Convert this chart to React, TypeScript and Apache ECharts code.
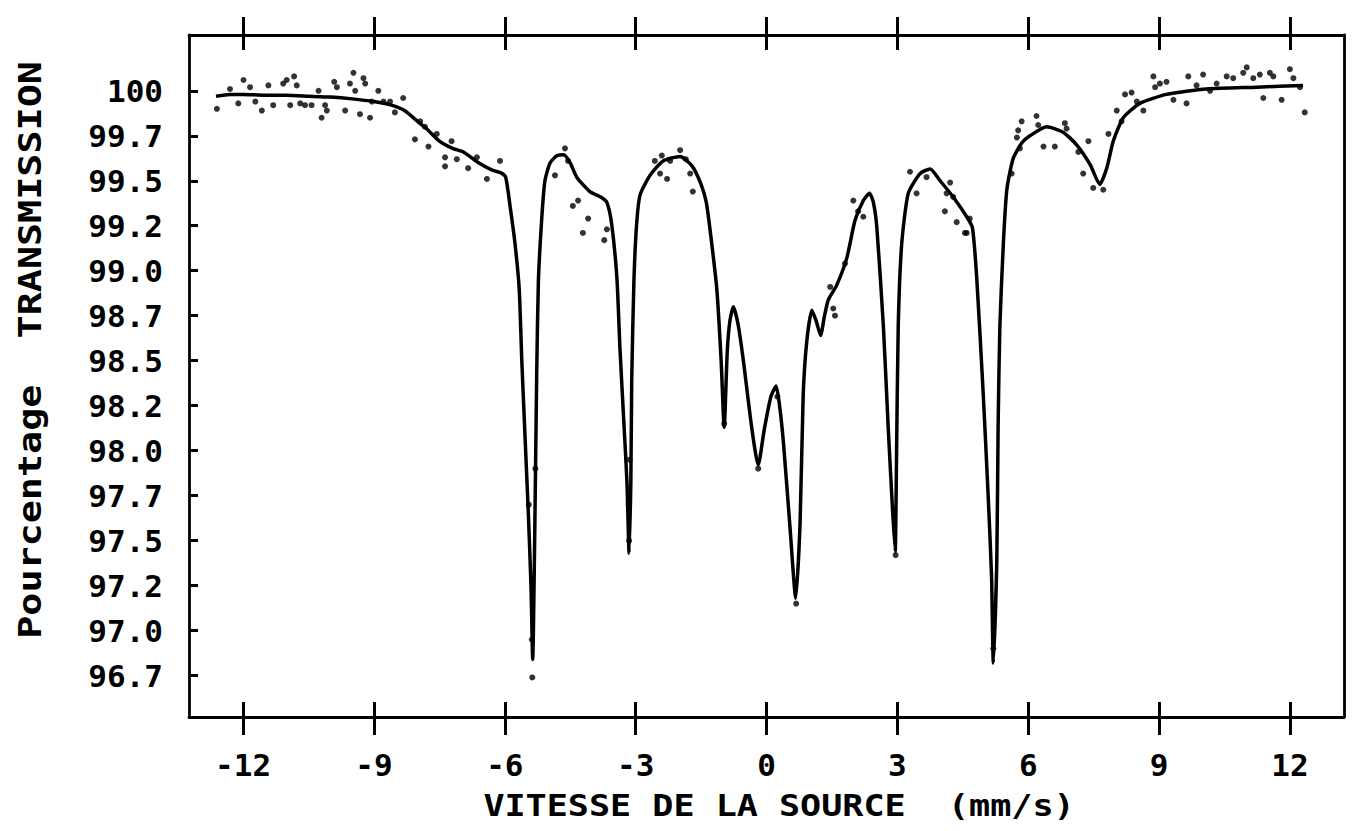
import React, { useEffect, useRef } from "react";
import * as echarts from "echarts";

const xTicks = [-12, -9, -6, -3, 0, 3, 6, 9, 12];
const xTickLabels = ["-12", "-9", "-6", "-3", "0", "3", "6", "9", "12"];
const yTicks = [100, 99.75, 99.5, 99.25, 99, 98.75, 98.5, 98.25, 98, 97.75, 97.5, 97.25, 97, 96.75];
const yTickLabels = ["100", "99.7", "99.5", "99.2", "99.0", "98.7", "98.5", "98.2", "98.0", "97.7", "97.5", "97.2", "97.0", "96.7"];

const xTitle = "VITESSE DE LA SOURCE  (mm/s)";
const yTitle = "Pourcentage  TRANSMISSION";

// fitted curve: [velocity mm/s, transmission %]
const fitCurve = [
  [-12.62, 99.97], [-12.3, 99.98], [-12.0, 99.98], [-11.5, 99.975], [-11.0, 99.975],
  [-10.5, 99.97], [-10.0, 99.965], [-9.5, 99.955], [-9.0, 99.94], [-8.6, 99.92],
  [-8.3, 99.89], [-8.0, 99.83], [-7.8, 99.79], [-7.5, 99.72], [-7.2, 99.68],
  [-6.95, 99.66], [-6.6, 99.6], [-6.3, 99.56], [-6.1, 99.545], [-5.98, 99.52],
  [-5.88, 99.36], [-5.77, 99.16], [-5.67, 98.9], [-5.61, 98.5], [-5.54, 98.1],
  [-5.46, 97.65], [-5.4, 97.25], [-5.36, 96.84], [-5.31, 97.6], [-5.27, 98.4],
  [-5.23, 98.94], [-5.15, 99.3], [-5.08, 99.5], [-4.96, 99.6], [-4.8, 99.64],
  [-4.65, 99.645], [-4.5, 99.6], [-4.35, 99.52], [-4.05, 99.44], [-3.8, 99.41],
  [-3.66, 99.38], [-3.55, 99.26], [-3.43, 98.96], [-3.36, 98.57], [-3.28, 98.2],
  [-3.2, 97.83], [-3.15, 97.43], [-3.11, 97.83], [-3.09, 98.39], [-3.04, 98.94],
  [-2.98, 99.25], [-2.9, 99.42], [-2.67, 99.53], [-2.37, 99.61], [-1.98, 99.635],
  [-1.7, 99.58], [-1.5, 99.48], [-1.38, 99.38], [-1.28, 99.2], [-1.14, 98.9],
  [-1.04, 98.5], [-0.97, 98.13], [-0.9, 98.55], [-0.84, 98.72], [-0.76, 98.8],
  [-0.65, 98.7], [-0.53, 98.5], [-0.34, 98.13], [-0.19, 97.92], [-0.05, 98.12],
  [0.1, 98.3], [0.22, 98.36], [0.3, 98.25], [0.39, 98.04], [0.54, 97.57],
  [0.67, 97.18], [0.77, 97.6], [0.84, 98.3], [0.92, 98.6], [1.04, 98.78],
  [1.14, 98.72], [1.24, 98.64], [1.33, 98.75], [1.42, 98.84], [1.61, 98.92],
  [1.84, 99.07], [2.03, 99.28], [2.22, 99.39], [2.36, 99.43], [2.45, 99.38],
  [2.53, 99.24], [2.68, 98.69], [2.79, 98.13], [2.89, 97.67], [2.95, 97.44],
  [2.98, 97.94], [3.02, 98.69], [3.1, 99.15], [3.25, 99.43], [3.52, 99.54],
  [3.75, 99.565], [3.98, 99.5], [4.28, 99.41], [4.59, 99.3], [4.72, 99.24],
  [4.82, 98.96], [4.97, 98.31], [5.08, 97.76], [5.16, 97.3], [5.2, 96.82],
  [5.28, 97.39], [5.31, 98.13], [5.35, 98.69], [5.43, 99.15], [5.51, 99.45],
  [5.65, 99.62], [5.85, 99.71], [6.04, 99.75], [6.42, 99.8], [6.8, 99.77],
  [7.11, 99.7], [7.42, 99.59], [7.64, 99.48], [7.8, 99.57], [7.95, 99.72],
  [8.18, 99.85], [8.56, 99.93], [9.17, 99.98], [10.09, 100.01], [11.24, 100.02],
  [12.3, 100.03],
];

// measured points: [velocity mm/s, transmission %]
const measured = [
  [-12.6, 99.9], [-12.3, 100.01], [-12.11, 99.93], [-11.99, 100.06], [-11.84, 100.02],
  [-11.72, 99.94], [-11.57, 99.89], [-11.42, 100.03], [-11.31, 99.92], [-11.08, 100.04],
  [-11.0, 100.06], [-10.92, 99.92], [-10.83, 100.08], [-10.77, 100.03], [-10.69, 99.93],
  [-10.58, 99.92], [-10.43, 99.92], [-10.27, 100.0], [-10.2, 99.85], [-10.12, 99.92],
  [-10.08, 99.89], [-9.91, 100.05], [-9.85, 100.02], [-9.66, 99.89], [-9.55, 100.04],
  [-9.47, 100.1], [-9.43, 100.0], [-9.32, 99.87], [-9.24, 100.07], [-9.2, 100.04],
  [-9.09, 99.85], [-9.05, 99.94], [-8.9, 100.0], [-8.78, 99.94], [-8.63, 99.94],
  [-8.52, 99.88], [-8.33, 99.96], [-8.06, 99.73], [-7.94, 99.83], [-7.83, 99.8],
  [-7.75, 99.69], [-7.56, 99.76], [-7.37, 99.63], [-7.37, 99.58], [-7.22, 99.72],
  [-7.1, 99.62], [-6.84, 99.57], [-6.64, 99.63], [-6.41, 99.51], [-6.11, 99.61],
  [-5.37, 96.74], [-5.38, 96.95], [-5.45, 97.7], [-5.3, 97.9],
  [-4.85, 99.53], [-4.62, 99.68], [-4.55, 99.61], [-4.44, 99.36], [-4.32, 99.39],
  [-4.21, 99.21], [-4.09, 99.29], [-3.72, 99.17], [-3.66, 99.23],
  [-3.15, 97.5], [-3.16, 97.7], [-3.14, 97.95],
  [-2.56, 99.61], [-2.44, 99.54], [-2.4, 99.64], [-2.28, 99.51], [-2.21, 99.61],
  [-1.98, 99.67], [-1.85, 99.62], [-1.75, 99.54], [-1.69, 99.44],
  [-0.97, 98.15], [-0.19, 97.9], [0.25, 98.3], [0.68, 97.15],
  [1.46, 98.91], [1.53, 98.79], [1.57, 98.75], [1.8, 99.04],
  [1.99, 99.39], [2.1, 99.33], [2.22, 99.3], [2.96, 97.42],
  [3.29, 99.55], [3.44, 99.43], [3.67, 99.52], [4.09, 99.33], [4.13, 99.43],
  [4.21, 99.49], [4.28, 99.41], [4.36, 99.27], [4.55, 99.21], [4.59, 99.21], [4.66, 99.29],
  [5.2, 96.9], [5.62, 99.54], [5.74, 99.74], [5.77, 99.78], [5.81, 99.68], [5.85, 99.83],
  [6.19, 99.86], [6.23, 99.81], [6.35, 99.69], [6.61, 99.69], [6.84, 99.82],
  [6.88, 99.79], [7.15, 99.66], [7.26, 99.54], [7.38, 99.72], [7.49, 99.46],
  [7.72, 99.45], [7.84, 99.76], [8.03, 99.89], [8.14, 99.83], [8.22, 99.98],
  [8.37, 99.99], [8.49, 99.94], [8.64, 99.89], [8.87, 100.08], [8.91, 100.02],
  [9.02, 100.04], [9.17, 100.05], [9.33, 99.95], [9.63, 99.93], [9.67, 100.08],
  [9.86, 100.03], [10.01, 100.09], [10.17, 100.0], [10.32, 100.04], [10.55, 100.08],
  [10.7, 100.07], [10.93, 100.1], [11.01, 100.13], [11.16, 100.07], [11.31, 100.09],
  [11.39, 99.96], [11.54, 100.1], [11.62, 100.08], [11.81, 99.95], [12.0, 100.12],
  [12.08, 100.07], [12.23, 100.02], [12.34, 99.88],
];

const FONT = '"DejaVu Sans Mono", "Liberation Mono", monospace';

function lookup(values: number[], labels: string[], v: number): string {
  for (let i = 0; i < values.length; i++) {
    if (Math.abs(values[i] - v) < 1e-6) return labels[i];
  }
  return "";
}

export default function App() {
  const ref = useRef<HTMLDivElement>(null);
  useEffect(() => {
    if (!ref.current) return;
    const chart = echarts.init(ref.current, undefined, { renderer: "svg" });
    const xMin = -13.24;
    const xMax = 13.24;
    const yMin = 96.52;
    const yMax = 100.31;
    const black = "#000";
    const baseX = {
      type: "value",
      min: xMin,
      max: xMax,
      splitLine: { show: false },
    };
    const frameLine = { show: true, onZero: false, lineStyle: { color: black, width: 2.8 } };
    chart.setOption({
      animation: false,
      backgroundColor: "#fff",
      grid: { left: 189, right: 12, top: 35, bottom: 114 },
      xAxis: [
        {
          ...baseX,
          position: "bottom",
          axisLine: frameLine,
          axisTick: { show: true, inside: true, length: 15, customValues: xTicks, lineStyle: { color: black, width: 3 } },
          axisLabel: {
            show: true,
            customValues: xTicks,
            formatter: (v: number) => lookup(xTicks, xTickLabels, v),
            color: black,
            fontFamily: FONT,
            fontWeight: "bold",
            fontSize: 31,
            margin: 32,
          },
        },
        {
          ...baseX,
          position: "bottom",
          axisLine: { show: false, onZero: false },
          axisTick: { show: true, inside: false, length: 18, customValues: xTicks, lineStyle: { color: black, width: 3 } },
          axisLabel: { show: false },
        },
        {
          ...baseX,
          position: "top",
          axisLine: frameLine,
          axisTick: { show: true, inside: true, length: 15, customValues: xTicks, lineStyle: { color: black, width: 3 } },
          axisLabel: { show: false },
        },
        {
          ...baseX,
          position: "top",
          axisLine: { show: false, onZero: false },
          axisTick: { show: true, inside: false, length: 18, customValues: xTicks, lineStyle: { color: black, width: 3 } },
          axisLabel: { show: false },
        },
      ],
      yAxis: [
        {
          type: "value",
          position: "left",
          min: yMin,
          max: yMax,
          splitLine: { show: false },
          axisLine: frameLine,
          axisTick: { show: true, inside: true, length: 9, customValues: yTicks, lineStyle: { color: black, width: 3 } },
          axisLabel: {
            show: true,
            customValues: yTicks,
            formatter: (v: number) => lookup(yTicks, yTickLabels, v),
            color: black,
            fontFamily: FONT,
            fontWeight: "bold",
            fontSize: 31,
            margin: 26,
          },
        },
        {
          type: "value",
          position: "right",
          min: yMin,
          max: yMax,
          splitLine: { show: false },
          axisLine: frameLine,
          axisTick: { show: false },
          axisLabel: { show: false },
        },
      ],
      graphic: [
        {
          type: "text",
          x: 779,
          y: 806,
          scaleX: 1.17,
          style: {
            text: xTitle,
            fill: black,
            font: 'bold 30px "DejaVu Sans Mono", monospace',
            align: "center",
            verticalAlign: "middle",
          },
        },
        {
          type: "text",
          x: 30,
          y: 350,
          rotation: Math.PI / 2,
          scaleX: 1.2,
          style: {
            text: yTitle,
            fill: black,
            font: 'bold 32px "DejaVu Sans Mono", monospace',
            align: "center",
            verticalAlign: "middle",
          },
        },
      ],
      series: [
        {
          type: "scatter",
          xAxisIndex: 0,
          yAxisIndex: 0,
          data: measured,
          symbol: "circle",
          symbolSize: 6,
          itemStyle: { color: black },
          silent: true,
        },
        {
          type: "line",
          xAxisIndex: 0,
          yAxisIndex: 0,
          data: fitCurve,
          showSymbol: false,
          smooth: 0.2,
          lineStyle: { color: black, width: 3.5 },
          silent: true,
        },
      ],
    });
    return () => chart.dispose();
  }, []);
  return (
    <div
      ref={ref}
      style={{ position: "fixed", left: 0, top: 0, width: 1356, height: 831, background: "#fff" }}
    />
  );
}
